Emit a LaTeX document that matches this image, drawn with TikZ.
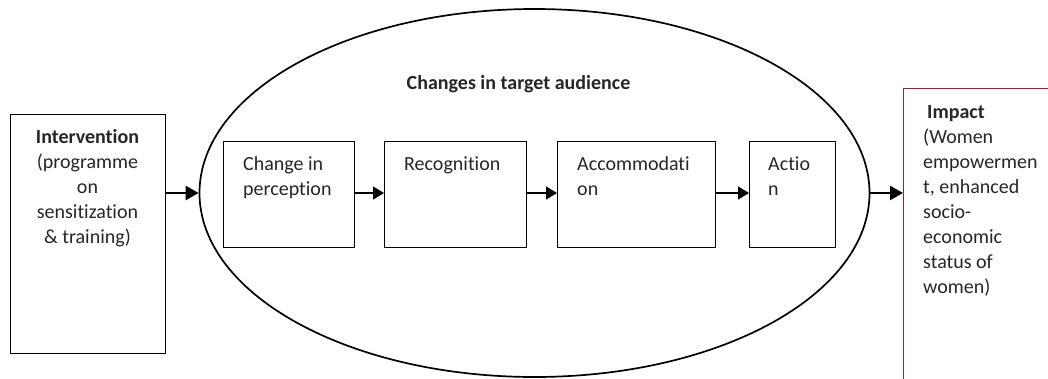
\documentclass[tikz,border=0pt]{standalone}
\usepackage{fontspec}
\setmainfont{Carlito}[Ligatures={NoCommon}]
\usetikzlibrary{arrows.meta,shapes.geometric}
\definecolor{impred}{HTML}{8B2A2A}
\newcommand{\tl}[1]{\begin{tabular}[t]{@{}l@{}}#1\end{tabular}}
\newcommand{\tc}[1]{\begin{tabular}[t]{@{}c@{}}#1\end{tabular}}
\begin{document}
\begin{tikzpicture}[x=1pt,y=-1pt,
  txt/.style={font=\fontsize{20}{25}\selectfont, inner sep=0pt, anchor=base west, text=black!85},
  stage/.style={draw, line width=1.2pt, inner sep=0pt},
  bigarrow/.style={line width=2.4pt, -{Triangle[length=13pt,width=14pt]}},
  smallarrow/.style={line width=1.3pt, -{Triangle[length=11pt,width=13pt]}}]
\useasboundingbox (0,0) rectangle (1048,378);
\begin{scope}
\clip (0,0) rectangle (1048,378);
% intervention
\node[stage, minimum width=155pt, minimum height=239pt, anchor=north west] (int) at (10,114) {};
\node[txt, anchor=base] (inttxt) at (87.5,143)
  {\tc{\textbf{Intervention}\\(programme\\on\\sensitization\\\& training)}};
% ellipse
\node[draw, ellipse, line width=1.7pt, minimum width=670pt, minimum height=368pt, inner sep=0pt] (ell) at (534.5,193) {};
\node[txt, font=\bfseries\fontsize{20}{25}\selectfont, anchor=base] (title) at (518.5,89) {Changes in target audience};
% stages
\node[stage, minimum width=131pt, minimum height=106pt, anchor=north west] (s1) at (223,141) {};
\node[stage, minimum width=142pt, minimum height=106pt, anchor=north west] (s2) at (384,141) {};
\node[stage, minimum width=158pt, minimum height=106pt, anchor=north west] (s3) at (557,141) {};
\node[stage, minimum width=86pt, minimum height=106pt, anchor=north west] (s4) at (749,141) {};
\node[txt] (t1) at (243,170) {\tl{Change in\\perception}};
\node[txt] (t2) at (404,170) {Recognition};
\node[txt] (t3) at (577,170) {\tl{Accommodati\\on}};
\node[txt] (t4) at (768,170) {\tl{Actio\\n}};
% impact
\node[draw=impred, line width=1.2pt, minimum width=200pt, minimum height=330pt, anchor=north west, inner sep=0pt] (imp) at (903,88) {};
\node[txt] (imptxt) at (923,118)
  {\tl{\hspace*{4pt}\textbf{Impact}\\(Women\\empowermen\\t, enhanced\\socio-\\economic\\status of\\women)}};
\end{scope}
% arrows
\draw[bigarrow] (int.east |- ell.west) -- (ell.west);
\draw[bigarrow] (ell.east) -- (imp.west |- ell.east);
\draw[smallarrow] (s1.east |- ell.center) -- (s2.west |- ell.center);
\draw[smallarrow] (s2.east |- ell.center) -- (s3.west |- ell.center);
\draw[smallarrow] (s3.east |- ell.center) -- (s4.west |- ell.center);
\end{tikzpicture}
\end{document}
